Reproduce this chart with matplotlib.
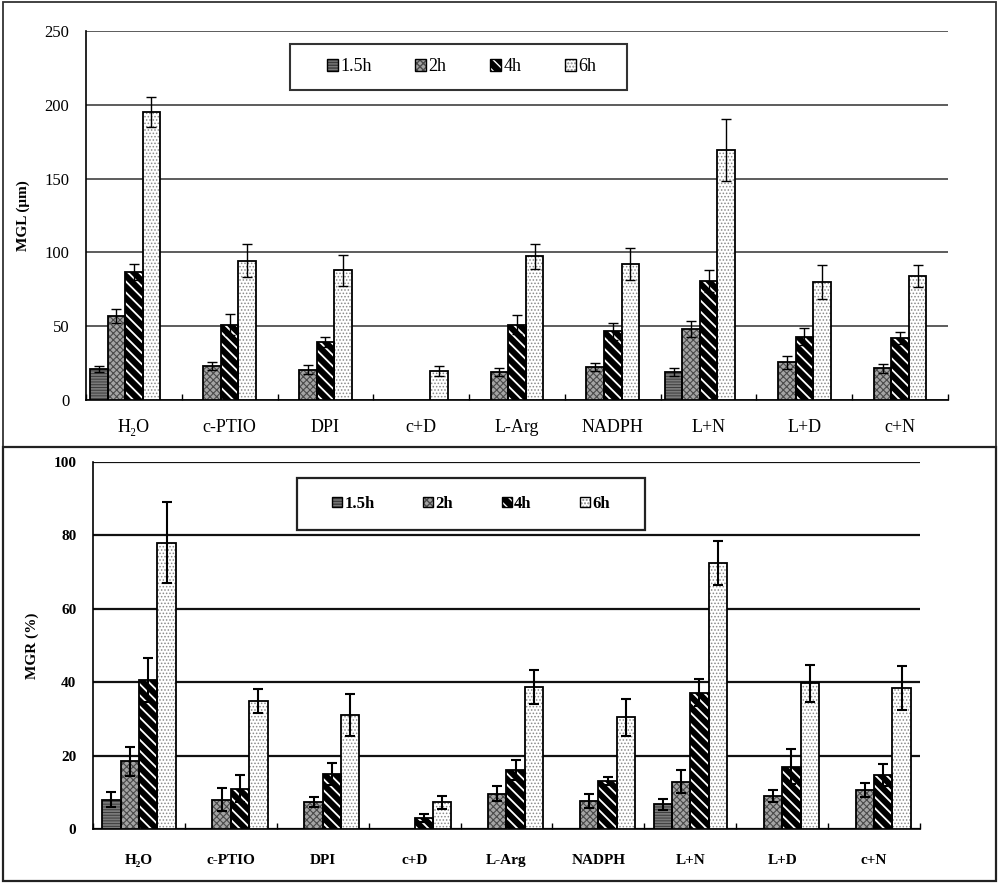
import numpy as np
import matplotlib
matplotlib.use('Agg')
import matplotlib.pyplot as plt
from matplotlib.patches import Rectangle, Patch

nan = np.nan

categories = ['H\u2082O', 'c-PTIO', 'DPI', 'c+D', 'L-Arg', 'NADPH', 'L+N', 'L+D', 'c+N']
series = ['1.5h', '2h', '4h', '6h']

# MGL (um), top panel
mgl_15 = [21, nan, nan, nan, nan, nan, 19, nan, nan]
mgl_2 = [57, 23, 20.5, nan, 19, 22.5, 48, 25.5, 21.5]
mgl_4 = [86.5, 51, 39.5, nan, 51, 46.5, 80.5, 43, 42]
mgl_6 = [195, 94.5, 88, 19.5, 97.5, 92, 169.5, 80, 84]
mgl_15_err = [2, nan, nan, nan, nan, nan, 3, nan, nan]
mgl_2_err = [4.5, 2.5, 3, nan, 3, 2.5, 5.5, 4.5, 3]
mgl_4_err = [5.5, 7, 3.5, nan, 6.5, 6, 7.5, 5.5, 4]
mgl_6_err = [10, 11, 10.5, 3.5, 8.5, 11, 21, 11.5, 7.5]

# MGR (%), bottom panel
mgr_15 = [8, nan, nan, nan, nan, nan, 6.7, nan, nan]
mgr_2 = [18.4, 8, 7.3, nan, 9.6, 7.6, 12.9, 9, 10.6]
mgr_4 = [40.5, 11, 15, 2.9, 16, 13.1, 37.1, 17, 14.7]
mgr_6 = [78, 34.8, 31.1, 7.3, 38.7, 30.4, 72.6, 39.7, 38.4]
mgr_15_err = [2, nan, nan, nan, nan, nan, 1.5, nan, nan]
mgr_2_err = [4, 3.1, 1.4, nan, 2.1, 2, 3.2, 1.6, 2]
mgr_4_err = [6, 3.7, 2.9, 1.1, 2.7, 1, 3.7, 4.7, 3]
mgr_6_err = [11, 3.3, 5.7, 1.8, 4.6, 5, 6, 5.1, 6]

serif = ['Liberation Serif', 'DejaVu Serif']
plt.rcParams['font.family'] = serif

# fill colour, hatch, hatch colour, hatch linewidth
# (matplotlib multiplies the hatch count by 6 lines per 72pt cell)
styles = [
    ('#7a7a7a', '-' * 6, '#3c3c3c', 0.7),
    ('#a4a4a4', 'x' * 5, '#4a4a4a', 0.8),
    ('#000000', '\\' * 3, '#ffffff', 1.3),
    ('#ffffff', '.' * 5, '#8a8a8a', 0.7),
]

fig = plt.figure(figsize=(10, 8.86), dpi=100)

# panel frames
fig.add_artist(Rectangle((0.003, 0.496), 0.993, 0.502, transform=fig.transFigure,
                         fill=False, edgecolor='#333333', linewidth=1.3))
fig.add_artist(Rectangle((0.003, 0.006), 0.993, 0.49, transform=fig.transFigure,
                         fill=False, edgecolor='#222222', linewidth=1.6))


def draw_panel(ax, vals, errs, width, offsets, ymax, ystep, grid_lw, grid_col, bold, err_lw):
    x = np.arange(len(categories))
    for i in range(4):
        v = np.array(vals[i], dtype=float)
        e = np.array(errs[i], dtype=float)
        m = ~np.isnan(v)
        fc, hatch, hc, hlw = styles[i]
        with plt.rc_context({'hatch.linewidth': hlw}):
            ax.bar(x[m] + offsets[i], v[m], width, color=fc, hatch=hatch,
                   edgecolor=hc, linewidth=0, zorder=3)
        ax.bar(x[m] + offsets[i], v[m], width, fill=False, edgecolor='black',
               linewidth=1.3, zorder=4)
        ax.errorbar(x[m] + offsets[i], v[m], yerr=e[m], fmt='none', ecolor='black',
                    elinewidth=err_lw, capsize=3.5, capthick=err_lw, zorder=5)
    ax.set_xlim(-0.5, len(categories) - 0.5)
    ax.set_ylim(0, ymax)
    ax.set_yticks(np.arange(0, ymax + 1, ystep))
    ax.yaxis.grid(True, color=grid_col, linewidth=grid_lw, zorder=0)
    ax.set_axisbelow(True)
    for s in ['top', 'right']:
        ax.spines[s].set_visible(False)
    ax.spines['left'].set_linewidth(1.2)
    ax.spines['bottom'].set_linewidth(1.2)
    ax.set_xticks(x)
    ax.set_xticks(np.arange(-0.5, len(categories), 1), minor=True)
    weight = 'bold' if bold else 'normal'
    ax.set_xticklabels(categories, fontweight=weight, fontsize=13 if not bold else 11)
    ax.tick_params(axis='x', which='major', length=0, pad=14)
    ax.tick_params(axis='x', which='minor', direction='in', length=4, width=1)
    ax.tick_params(axis='y', length=0, labelsize=12 if not bold else 11)
    for t in ax.get_yticklabels():
        t.set_fontweight(weight)


# top panel
ax1 = fig.add_axes([0.086, 0.5485, 0.862, 0.4165])
w1 = 0.183
draw_panel(ax1, [mgl_15, mgl_2, mgl_4, mgl_6], [mgl_15_err, mgl_2_err, mgl_4_err, mgl_6_err],
           w1, (np.arange(4) - 2) * w1, 250, 50, 1.1, '#303030', False, 1.0)
ax1.tick_params(axis='y', pad=12)
ax1.set_ylabel('MGL (\u03bcm)', fontweight='bold', fontsize=11, labelpad=10)

# bottom panel
ax2 = fig.add_axes([0.093, 0.0643, 0.827, 0.4143])
w2 = 0.2
draw_panel(ax2, [mgr_15, mgr_2, mgr_4, mgr_6], [mgr_15_err, mgr_2_err, mgr_4_err, mgr_6_err],
           w2, (np.arange(4) - 1.5) * w2, 100, 20, 1.6, '#111111', True, 1.5)
ax2.tick_params(axis='y', pad=12)
ax2.tick_params(axis='x', which='major', pad=18)
ax2.set_ylabel('MGR (%)', fontweight='bold', fontsize=11, labelpad=10)

# legends inside boxes
handles = []
for fc, hatch, hc, hlw in styles:
    with plt.rc_context({'hatch.linewidth': hlw}):
        p1 = Patch(facecolor=fc, hatch=hatch, edgecolor=hc, linewidth=0)
    p2 = Patch(fill=False, edgecolor='black', linewidth=1.0)
    handles.append((p1, p2))

fig.add_artist(Rectangle((0.290, 0.8985), 0.337, 0.0518, transform=fig.transFigure,
                         fill=False, edgecolor='#333333', linewidth=1.5))
fig.legend(handles, series, loc='center', bbox_to_anchor=(0.4615, 0.9244), ncol=4,
           frameon=False, handlelength=0.6, handleheight=0.6, handletextpad=0.15,
           columnspacing=2.4, prop={'family': serif, 'size': 13})

fig.add_artist(Rectangle((0.297, 0.4018), 0.348, 0.0587, transform=fig.transFigure,
                         fill=False, edgecolor='#222222', linewidth=1.6))
fig.legend(handles, series, loc='center', bbox_to_anchor=(0.471, 0.4311), ncol=4,
           frameon=False, handlelength=0.6, handleheight=0.6, handletextpad=0.15,
           columnspacing=2.9, prop={'family': serif, 'size': 12, 'weight': 'bold'})

plt.savefig('out.png', dpi=100)
plt.close()
